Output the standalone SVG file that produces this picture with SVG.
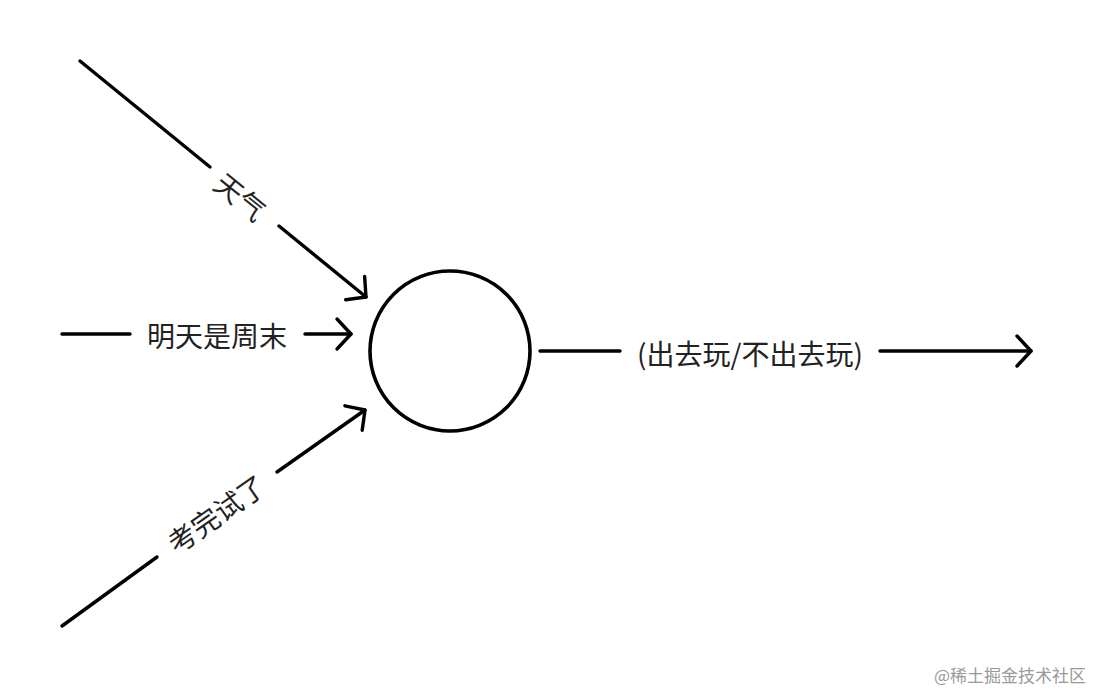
<svg xmlns="http://www.w3.org/2000/svg" width="1100" height="692" viewBox="0 0 1100 692">
<defs>
<marker id="arr" markerUnits="userSpaceOnUse" markerWidth="40" markerHeight="40" refX="20" refY="20" orient="auto" viewBox="0 0 40 40">
<path d="M6,5 L20,20 L6,35" fill="none" stroke="#000" stroke-width="3.4" stroke-linecap="round" stroke-linejoin="round"/>
</marker>
</defs>
<style>
.ln{fill:none;stroke:#000;stroke-width:3.4;stroke-linecap:round}
.lb{font-family:"Noto Sans CJK SC","Noto Sans",sans-serif;font-size:28px;fill:#222;text-anchor:middle;dominant-baseline:central}
.wm{font-family:"Noto Sans CJK SC",sans-serif;font-size:17px;fill:#999}
</style>
<rect width="1100" height="692" fill="#fff"/>
<g id="node-neuron">
<circle cx="450" cy="351" r="80" fill="#fff" stroke="#000" stroke-width="3.6"/>
</g>
<g id="connectors">
<line class="ln" x1="80" y1="61" x2="210" y2="167"/>
<line class="ln" x1="279" y1="226" x2="366" y2="297" marker-end="url(#arr)"/>
<line class="ln" x1="62" y1="334" x2="130" y2="334"/>
<line class="ln" x1="305" y1="334" x2="351" y2="334" marker-end="url(#arr)"/>
<line class="ln" x1="62" y1="626" x2="157" y2="557"/>
<line class="ln" x1="277" y1="472" x2="365" y2="410" marker-end="url(#arr)"/>
<line class="ln" x1="540" y1="351" x2="620" y2="351"/>
<line class="ln" x1="880" y1="351" x2="1031" y2="351" marker-end="url(#arr)"/>
</g>
<g id="label-weather">
<text class="lb" transform="translate(241,196) rotate(39)">天气</text>
</g>
<g id="label-weekend">
<text class="lb" x="217" y="335">明天是周末</text>
</g>
<g id="label-exam">
<text class="lb" transform="translate(216,513) rotate(-35)">考完试了</text>
</g>
<g id="label-output">
<text class="lb" x="750" y="353">(出去玩/不出去玩)</text>
</g>
<text class="wm" x="934" y="682">@稀土掘金技术社区</text>
</svg>
